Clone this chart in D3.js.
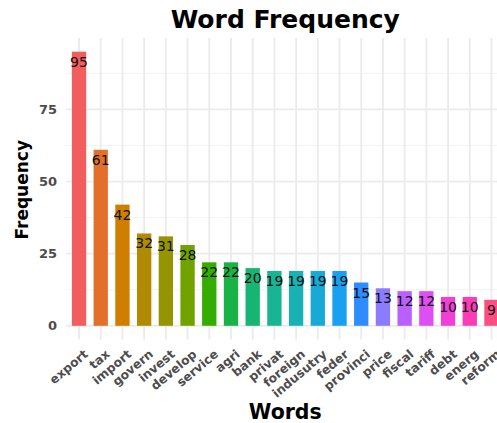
<!DOCTYPE html>
<html>
<head>
<meta charset="utf-8">
<script src="https://cdn.jsdelivr.net/npm/d3@7"></script>
<style>
  body { margin: 0; background: #fff; }
  text { font-family: "DejaVu Sans", Verdana, sans-serif; }
</style>
</head>
<body>
<div id="chart"></div>
<script>
const words = ["export", "tax", "import", "govern", "invest", "develop", "service", "agri", "bank", "privat",
  "foreign", "indusutry", "feder", "provinci", "price", "fiscal", "tariff", "debt", "energ", "reform"];
const counts = [95, 61, 42, 32, 31, 28, 22, 22, 20, 19, 19, 19, 19, 15, 13, 12, 12, 10, 10, 9];
const colors = ["#F25E5E", "#E2702A", "#CF7E00", "#B08A00", "#949500", "#72A200", "#35AD00", "#18B247",
  "#17B474", "#18B594", "#19B2B4", "#19A9D6", "#1AA0F0", "#2E8CFF", "#8A7BFF", "#BA60FF",
  "#DD4FF0", "#F040D8", "#FA3DB6", "#FC4E82"];
const yTicks = [0, 25, 50, 75];
const yMinor = [12.5, 37.5, 62.5, 87.5];

const width = 497, height = 423;
// panel runs a little past the right edge, the reference is cropped there
const panel = { left: 66, right: 504.5, top: 38, bottom: 339.5 };

const svg = d3.select('#chart').append('svg')
    .attr('width', width)
    .attr('height', height);

const yMax = d3.max(counts);
const y = d3.scaleLinear()
    .domain([-yMax * 0.05, yMax * 1.05])
    .range([panel.bottom, panel.top]);

// first centre sits 0.6 step in from the panel edge
const x = d3.scaleBand()
    .domain(words)
    .range([panel.left, panel.right])
    .paddingInner(0.34)
    .paddingOuter(0.27);

const cx = d => x(d) + x.bandwidth() / 2;

const grid = svg.append('g');

grid.selectAll('line.minor')
    .data(yMinor)
  .enter().append('line')
    .attr('x1', panel.left).attr('x2', panel.right)
    .attr('y1', d => y(d)).attr('y2', d => y(d))
    .attr('stroke', '#f3f3f3').attr('stroke-width', 1);

grid.selectAll('line.major')
    .data(yTicks)
  .enter().append('line')
    .attr('x1', panel.left).attr('x2', panel.right)
    .attr('y1', d => y(d)).attr('y2', d => y(d))
    .attr('stroke', '#ebebeb').attr('stroke-width', 1.8);

grid.selectAll('line.vert')
    .data(words)
  .enter().append('line')
    .attr('x1', cx).attr('x2', cx)
    .attr('y1', panel.top).attr('y2', panel.bottom)
    .attr('stroke', '#ebebeb').attr('stroke-width', 1.8);

svg.selectAll('rect.bar')
    .data(words)
  .enter().append('rect')
    .attr('x', d => x(d))
    .attr('y', (d, i) => y(counts[i]))
    .attr('width', x.bandwidth())
    .attr('height', (d, i) => y(0) - y(counts[i]))
    .attr('fill', (d, i) => colors[i]);

svg.selectAll('text.val')
    .data(words)
  .enter().append('text')
    .attr('x', cx)
    .attr('y', (d, i) => y(counts[i]) + 15)
    .attr('text-anchor', 'middle')
    .attr('font-size', 14)
    .attr('fill', '#111')
    .text((d, i) => counts[i]);

svg.selectAll('text.ytick')
    .data(yTicks)
  .enter().append('text')
    .attr('x', panel.left - 9)
    .attr('y', d => y(d))
    .attr('dy', '0.36em')
    .attr('text-anchor', 'end')
    .attr('font-size', 13)
    .attr('font-weight', 'bold')
    .attr('fill', '#4d4d4d')
    .text(d => d);

svg.selectAll('text.xtick')
    .data(words)
  .enter().append('text')
    .attr('transform', d => `translate(${cx(d) + 4},${panel.bottom + 9}) rotate(-40)`)
    .attr('text-anchor', 'end')
    .attr('dy', '0.74em')
    .attr('font-size', 12.3)
    .attr('font-weight', 'bold')
    .attr('fill', '#4d4d4d')
    .text(d => d);

const midX = (panel.left + panel.right) / 2;

svg.append('text')
    .attr('x', midX)
    .attr('y', 28)
    .attr('text-anchor', 'middle')
    .attr('font-size', 25)
    .attr('font-weight', 'bold')
    .attr('fill', '#000')
    .text('Word Frequency');

svg.append('text')
    .attr('x', midX)
    .attr('y', 419)
    .attr('text-anchor', 'middle')
    .attr('font-size', 20.5)
    .attr('font-weight', 'bold')
    .attr('fill', '#000')
    .text('Words');

svg.append('text')
    .attr('transform', `translate(28,${(panel.top + panel.bottom) / 2 + 1}) rotate(-90)`)
    .attr('text-anchor', 'middle')
    .attr('font-size', 17)
    .attr('font-weight', 'bold')
    .attr('fill', '#000')
    .text('Frequency');
</script>
</body>
</html>
